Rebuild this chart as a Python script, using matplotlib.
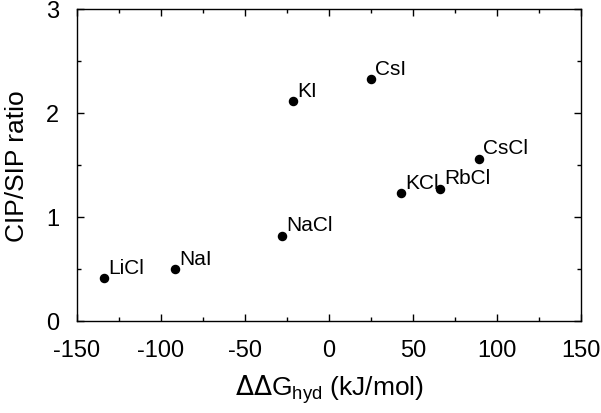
import matplotlib
matplotlib.use("Agg")
import matplotlib.pyplot as plt
from matplotlib.ticker import MultipleLocator

plt.rcParams['font.family'] = ['Liberation Sans', 'DejaVu Sans']
plt.rcParams['axes.unicode_minus'] = False

# salts, hydration free energy difference and contact/solvent-separated ratio
salts = ["LiCl", "NaI", "NaCl", "KI", "CsI", "KCl", "RbCl", "CsCl"]
ddg = [-133.7, -91.9, -28.0, -21.2, 24.8, 42.9, 66.0, 89.0]
ratio = [0.41, 0.50, 0.82, 2.11, 2.32, 1.225, 1.27, 1.56]

fig = plt.figure(figsize=(6.01, 4.14), dpi=100)
ax = fig.add_axes([77/601, 1 - 322/414, (581-77)/601, (322-9.5)/414])

ax.scatter(ddg, ratio, s=34, color='black', zorder=3)
for name, x, y in zip(salts, ddg, ratio):
    ax.annotate(name, (x, y), xytext=(3, 1), textcoords='offset points',
                ha='left', va='bottom', fontsize=15)

ax.set_xlim(-150, 150)
ax.set_ylim(0, 3)
ax.xaxis.set_major_locator(MultipleLocator(50))
ax.xaxis.set_minor_locator(MultipleLocator(25))
ax.yaxis.set_major_locator(MultipleLocator(1))
ax.yaxis.set_minor_locator(MultipleLocator(0.5))
ax.tick_params(which='both', direction='in', top=True, right=True, labelsize=17, width=1)
ax.tick_params(which='major', length=5, pad=13)
ax.tick_params(which='minor', length=3)
for s in ax.spines.values():
    s.set_linewidth(1)

ax.set_xlabel(r'$\Delta\Delta$G$_{\mathregular{hyd}}$ (kJ/mol)', fontsize=19, labelpad=8)
ax.set_ylabel('CIP/SIP ratio', fontsize=19, labelpad=12)

fig.savefig('out.png', dpi=100)
